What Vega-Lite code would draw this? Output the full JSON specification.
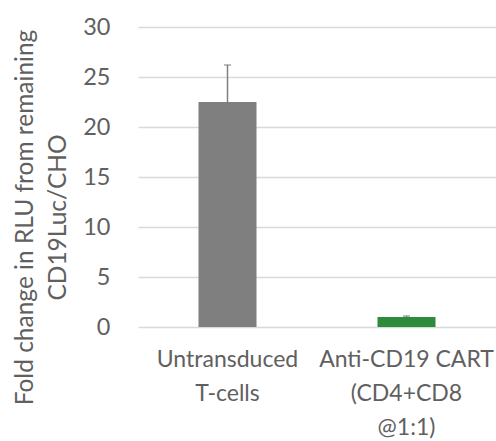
{
  "$schema": "https://vega.github.io/schema/vega-lite/v6.json",
  "width": 358,
  "height": 300,
  "autosize": "none",
  "padding": {"left": 138, "top": 27, "right": 0, "bottom": 114},
  "background": "white",
  "data": {
    "values": [
      {"group": "Untransduced|T-cells", "value": 22.5, "upper": 26.2, "color": "#7f7f7f"},
      {"group": "Anti-CD19 CART|(CD4+CD8|@1:1)", "value": 1.0, "upper": 1.1, "color": "#2e8b3c"}
    ]
  },
  "config": {
    "view": {"stroke": null},
    "font": "Lato"
  },
  "encoding": {
    "x": {
      "field": "group",
      "type": "nominal",
      "sort": null,
      "scale": {"paddingInner": 0, "paddingOuter": 0},
      "axis": {
        "title": null,
        "labelAngle": 0,
        "labelExpr": "split(datum.label, '|')",
        "labelFontSize": 23,
        "labelColor": "#606060",
        "labelLineHeight": 34,
        "labelPadding": 21,
        "ticks": false,
        "domain": false,
        "labelLimit": 300
      }
    }
  },
  "layer": [
    {
      "mark": {"type": "bar", "size": 58},
      "encoding": {
        "y": {
          "field": "value",
          "type": "quantitative",
          "scale": {"domain": [0, 30]},
          "axis": {
            "values": [0, 5, 10, 15, 20, 25, 30],
            "title": ["Fold change in RLU from remaining", "CD19Luc/CHO"],
            "titleFontSize": 24.5,
            "titleFontWeight": "normal",
            "titleColor": "#606060",
            "titleLineHeight": 33,
            "titleAngle": -90,
            "titleX": -125,
            "titleY": 190,
            "titleAlign": "center",
            "titleBaseline": "top",
            "labelFontSize": 23.5,
            "labelColor": "#606060",
            "labelPadding": 28,
            "ticks": false,
            "domain": false,
            "grid": true,
            "gridColor": "#d9d9d9",
            "gridWidth": 1.5
          }
        },
        "color": {"field": "color", "type": "nominal", "scale": null, "legend": null}
      }
    },
    {
      "mark": {"type": "rule", "color": "#808080", "strokeWidth": 1.5},
      "encoding": {
        "y": {"field": "value", "type": "quantitative"},
        "y2": {"field": "upper"}
      }
    },
    {
      "mark": {"type": "tick", "color": "#808080", "size": 7, "thickness": 1.5},
      "encoding": {
        "y": {"field": "upper", "type": "quantitative"}
      }
    }
  ]
}
